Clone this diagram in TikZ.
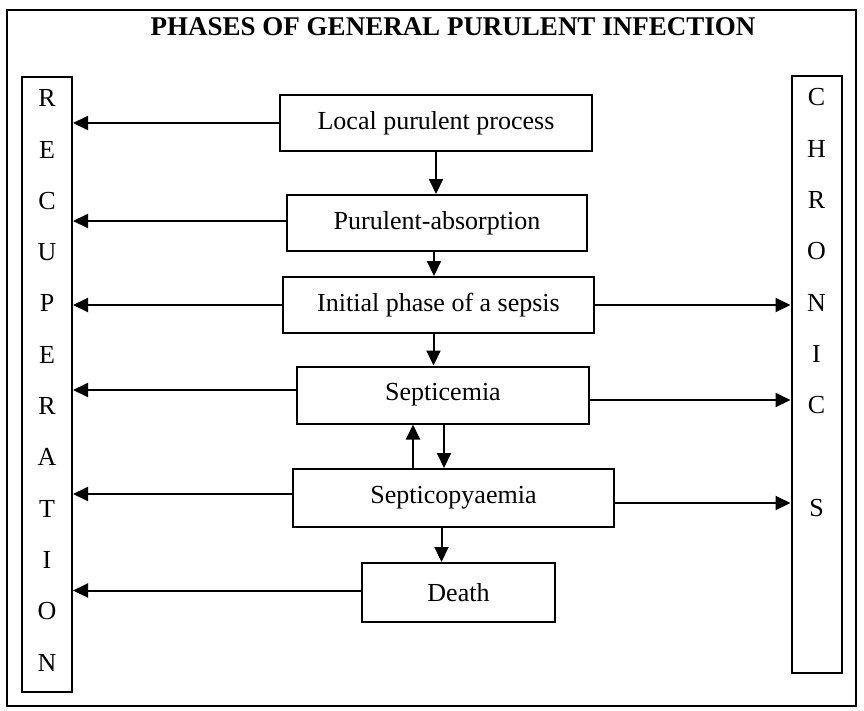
\documentclass[tikz,border=0pt]{standalone}
\usepackage{fontspec}
\setmainfont{Liberation Serif}
\usetikzlibrary{arrows.meta}

\tikzset{
    phase/.style={draw, line width=2pt, minimum height=56pt, inner sep=0pt,
        font=\fontsize{26}{30}\selectfont},
    sidebox/.style={draw, line width=2pt, inner sep=0pt, minimum width=50pt},
    letters/.style={align=center, inner sep=0pt, anchor=north,
        font=\fontsize{26}{51.3}\selectfont},
    arr/.style={line width=2pt, -{Triangle[length=15pt,width=14pt]}}
}

\begin{document}
\begin{tikzpicture}[x=1pt,y=-1pt]
        \useasboundingbox (0,0) rectangle (864,710);
        %draw the outer frame and the title
        \draw[line width=1.6pt] (7,10) rectangle (856,706);
        \node (title) at (453,27) {\fontsize{27}{30}\selectfont\bfseries PHASES OF GENERAL PURULENT INFECTION};

        %the two side columns
        \node[sidebox, minimum height=615pt] (recup) at (47,384.5) {};
        \node[sidebox, minimum height=597pt] (chron) at (816.5,374.5) {};
        \node[letters] (recuptext) at (47,89.5) {R\\E\\C\\U\\P\\E\\R\\A\\T\\I\\O\\N};
        \node[letters] (chrontext) at (816.5,88.5) {C\\H\\R\\O\\N\\I\\C\\[51.3pt]S};

        %the phases
        \node[phase, minimum width=312pt] (local) at (436,123) {Local purulent process};
        \node[phase, minimum width=300pt] (absorb) at (437,223) {Purulent-absorption};
        \node[phase, minimum width=311pt] (initial) at (438.5,305) {Initial phase of a sepsis};
        \node[phase, minimum width=292pt, minimum height=57pt] (septic) at (443,395) {Septicemia};
        \node[phase, minimum width=321pt, minimum height=58pt] (pyaemia) at (453.5,498) {Septicopyaemia};
        \node[phase, minimum width=193pt, minimum height=59pt] (death) at (458.5,592.5) {Death};

        %arrows down the middle
        \draw[arr] (local.south) -- (local.south |- absorb.north);
        \draw[arr] ([xshift=-3pt]absorb.south) -- ([xshift=-3pt]absorb.south |- initial.north);
        \draw[arr] ([xshift=-5pt]initial.south) -- ([xshift=-5pt]initial.south |- septic.north);
        \draw[arr] ([xshift=1pt]septic.south) -- ([xshift=1pt]septic.south |- pyaemia.north);
        \draw[arr] ([xshift=-30pt]septic.south |- pyaemia.north) -- ([xshift=-30pt]septic.south);
        \draw[arr] ([xshift=-12pt]pyaemia.south) -- ([xshift=-12pt]pyaemia.south |- death.north);

        %arrows to recuperation
        \draw[arr] (local.west) -- (local.west -| recup.east);
        \draw[arr] ([yshift=2pt]absorb.west) -- ([yshift=2pt]absorb.west -| recup.east);
        \draw[arr] (initial.west) -- (initial.west -| recup.east);
        \draw[arr] ([yshift=5pt]septic.west) -- ([yshift=5pt]septic.west -| recup.east);
        \draw[arr] ([yshift=4pt]pyaemia.west) -- ([yshift=4pt]pyaemia.west -| recup.east);
        \draw[arr] ([yshift=2pt]death.west) -- ([yshift=2pt]death.west -| recup.east);

        %arrows to chronics
        \draw[arr] (initial.east) -- (initial.east -| chron.west);
        \draw[arr] ([yshift=-5pt]septic.east) -- ([yshift=-5pt]septic.east -| chron.west);
        \draw[arr] ([yshift=-5pt]pyaemia.east) -- ([yshift=-5pt]pyaemia.east -| chron.west);
\end{tikzpicture}
\end{document}
